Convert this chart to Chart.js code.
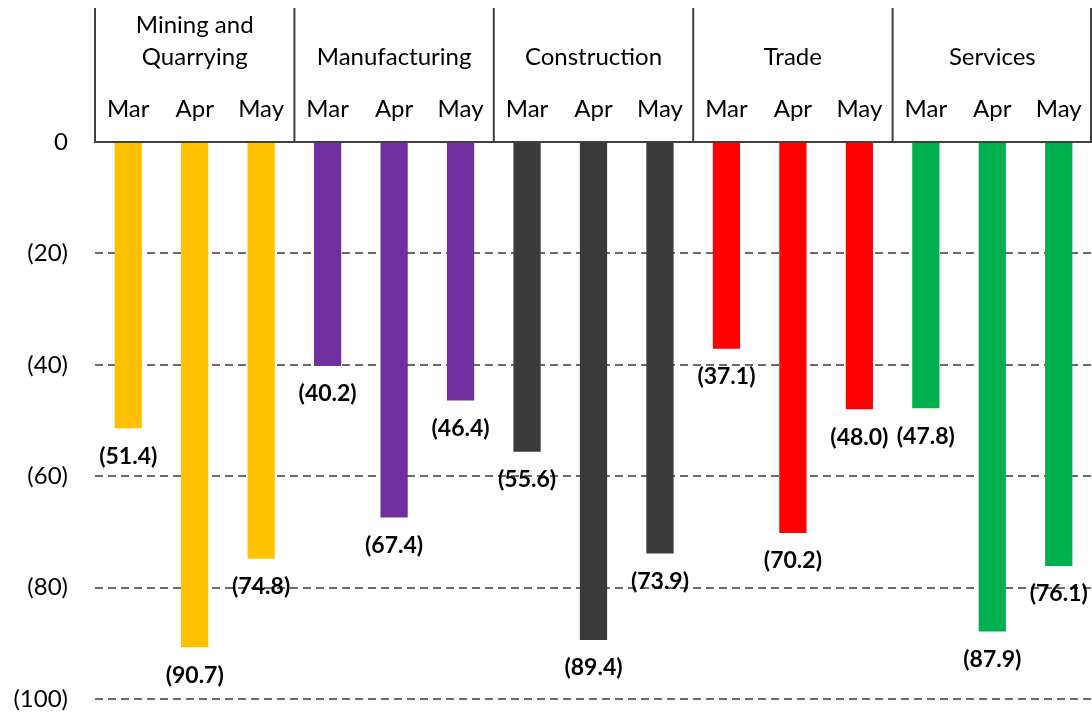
<!DOCTYPE html>
<html>
<head>
<meta charset="utf-8">
<script src="https://cdn.jsdelivr.net/npm/chart.js@4.4.1/dist/chart.umd.min.js"></script>
<style>
  html, body { margin: 0; padding: 0; background: #fff; }
  #wrap { width: 1092px; height: 715px; position: relative; }
</style>
</head>
<body>
<div id="wrap"><canvas id="sector-chart"></canvas></div>
<script>
// Sector groups, months and values (negative = decline)
const groups = [['Mining and', 'Quarrying'], ['Manufacturing'], ['Construction'], ['Trade'], ['Services']];
const months = ['Mar', 'Apr', 'May'];
const mining = [-51.4, -90.7, -74.8];
const manufacturing = [-40.2, -67.4, -46.4];
const construction = [-55.6, -89.4, -73.9];
const trade = [-37.1, -70.2, -48.0];
const services = [-47.8, -87.9, -76.1];
const groupColors = ['#FFC000', '#7030A0', '#3A3A3A', '#FF0000', '#00B050'];
const yTicks = [0, -20, -40, -60, -80, -100];

const FONT = 'Lato, "Open Sans", sans-serif';

const seriesByGroup = [mining, manufacturing, construction, trade, services];
const labels = [];
const values = [];
const colors = [];
seriesByGroup.forEach((s, g) => {
    s.forEach((v, i) => {
        labels.push(months[i]);
        values.push(v);
        colors.push(groupColors[g]);
    });
});

// (12.3) style for bar values, (20) for axis ticks
function fmtValue(v) {
    return '(' + Math.abs(v).toFixed(1) + ')';
}
function fmtTick(v) {
    return v === 0 ? '0' : '(' + Math.abs(v) + ')';
}

// Draws the group header: separators and group names
const headerPlugin = {
    id: 'header',
    afterDraw(chart) {
        const ctx = chart.ctx;
        const x = chart.scales.x;
        const top = chart.chartArea.top;
        const half = (x.getPixelForValue(1) - x.getPixelForValue(0)) / 2;
        ctx.save();
        ctx.strokeStyle = '#404040';
        ctx.lineWidth = 2;
        for (let g = 0; g <= groups.length; g++) {
            let px = g < groups.length ? x.getPixelForValue(g * 3) - half : x.getPixelForValue(g * 3 - 1) + half;
            px = Math.min(px, chart.width - 1);
            ctx.beginPath();
            ctx.moveTo(px, 8);
            ctx.lineTo(px, top);
            ctx.stroke();
        }
        ctx.fillStyle = '#000';
        ctx.font = '24px ' + FONT;
        ctx.textAlign = 'center';
        ctx.textBaseline = 'middle';
        groups.forEach((lines, g) => {
            const cx = x.getPixelForValue(g * 3 + 1);
            if (lines.length === 2) {
                ctx.fillText(lines[0], cx, 25);
                ctx.fillText(lines[1], cx, 57);
            } else {
                ctx.fillText(lines[0], cx, 57);
            }
        });
        ctx.restore();
    }
};

// Value labels under each bar
const valueLabels = {
    id: 'valueLabels',
    afterDatasetsDraw(chart) {
        const ctx = chart.ctx;
        const meta = chart.getDatasetMeta(0);
        ctx.save();
        ctx.fillStyle = '#000';
        ctx.font = 'bold 23px ' + FONT;
        ctx.textAlign = 'center';
        ctx.textBaseline = 'middle';
        meta.data.forEach((bar, i) => {
            ctx.fillText(fmtValue(values[i]), bar.x, bar.y + 28);
        });
        ctx.restore();
    }
};

new Chart(document.getElementById('sector-chart'), {
    type: 'bar',
    data: {
        labels: labels,
        datasets: [{
            data: values,
            backgroundColor: colors,
            barPercentage: 0.41,
            categoryPercentage: 1.0,
        }]
    },
    options: {
        responsive: true,
        maintainAspectRatio: false,
        animation: false,
        layout: { padding: { top: 0, right: 0, bottom: 16, left: 0 } },
        scales: {
            x: {
                position: 'top',
                offset: true,
                grid: { display: false, drawTicks: false },
                border: { display: true, color: '#404040', width: 2 },
                ticks: {
                    color: '#000',
                    font: { family: FONT, size: 24 },
                    padding: 18,
                    maxRotation: 0,
                    autoSkip: false,
                },
                afterFit(scale) {
                    scale.height = 142;
                    scale.paddingLeft = 0;
                    scale.paddingRight = 0;
                }
            },
            y: {
                min: -100,
                max: 0,
                afterBuildTicks(scale) {
                    scale.ticks = yTicks.map(v => ({ value: v }));
                },
                grid: {
                    drawTicks: false,
                    color: '#6a6a6a',
                    lineWidth: 2,
                },
                border: { display: false, dash: [8, 5] },
                ticks: {
                    color: '#000',
                    font: { family: FONT, size: 24 },
                    padding: 27,
                    callback: (v) => fmtTick(v),
                },
                afterFit(scale) {
                    scale.width = 95;
                    scale.paddingTop = 0;
                    scale.paddingBottom = 0;
                }
            }
        },
        plugins: {
            legend: { display: false },
            tooltip: { enabled: false }
        }
    },
    plugins: [headerPlugin, valueLabels]
});
</script>
</body>
</html>
